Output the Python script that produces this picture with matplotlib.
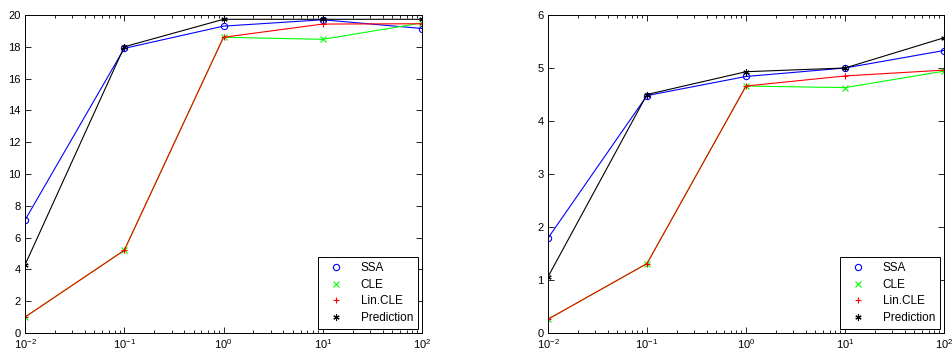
import matplotlib.pyplot as plt
from matplotlib.lines import Line2D
from matplotlib.ticker import LogLocator, NullFormatter

plt.rcParams['font.family'] = ['Liberation Sans', 'DejaVu Sans']

x = [0.01, 0.1, 1, 10, 100]

# left panel
ssa_l = [7.1, 17.9, 19.3, 19.7, 19.15]
cle_l = [1.0, 5.2, 18.6, 18.47, 19.5]
lin_l = [1.0, 5.2, 18.6, 19.43, 19.45]
pred_l = [4.28, 18.0, 19.73, 19.73, 19.73]

# right panel
ssa_r = [1.79, 4.48, 4.84, 5.0, 5.33]
cle_r = [0.26, 1.31, 4.66, 4.63, 4.94]
lin_r = [0.26, 1.31, 4.66, 4.85, 4.96]
pred_r = [1.06, 4.5, 4.93, 5.0, 5.57]

names = ['SSA', 'CLE', 'Lin.CLE', 'Prediction']
colors = ['#0000ff', '#00ff00', '#ff0000', '#000000']
markers = ['o', 'x', '+', (6, 2, 0)]

fig = plt.figure(figsize=(9.52, 3.56), dpi=100)
axl = fig.add_axes([25/952, 1-333/356, 397/952, 318/356])
axr = fig.add_axes([548/952, 1-333/356, 396/952, 318/356])


def draw(ax, series, ymax, yticks):
    for ys, c, m in zip(series, colors, markers):
        ax.plot(x, ys, color=c, lw=0.8, marker=m, ms=4.5, mfc='none', mec=c, mew=0.8)
    ax.set_xscale('log')
    ax.set_xlim(0.01, 100)
    ax.set_ylim(0, ymax)
    ax.set_yticks(yticks)
    ax.xaxis.set_major_locator(LogLocator(base=10, numticks=10))
    ax.xaxis.set_minor_locator(LogLocator(base=10, subs=range(2, 10), numticks=20))
    ax.xaxis.set_minor_formatter(NullFormatter())
    ax.tick_params(which='both', direction='in', top=True, right=True, labelsize=8,
                   width=0.6, pad=3)
    ax.tick_params(which='major', length=4)
    ax.tick_params(which='minor', length=2)
    for s in ax.spines.values():
        s.set_linewidth(0.7)
    handles = [Line2D([], [], ls='none', marker=m, color=c, mfc='none', ms=4.5, mew=0.8)
               for c, m in zip(colors, markers)]
    leg = ax.legend(handles, names, loc='lower right', fontsize=8.5, fancybox=False,
                    edgecolor='black', framealpha=1, borderaxespad=0.35,
                    handlelength=2.2, labelspacing=0.4, handletextpad=1.0,
                    borderpad=0.4)
    leg.get_frame().set_linewidth(0.7)


draw(axl, [ssa_l, cle_l, lin_l, pred_l], 20, range(0, 21, 2))
draw(axr, [ssa_r, cle_r, lin_r, pred_r], 6, range(0, 7))

fig.savefig('out.png', dpi=100)
